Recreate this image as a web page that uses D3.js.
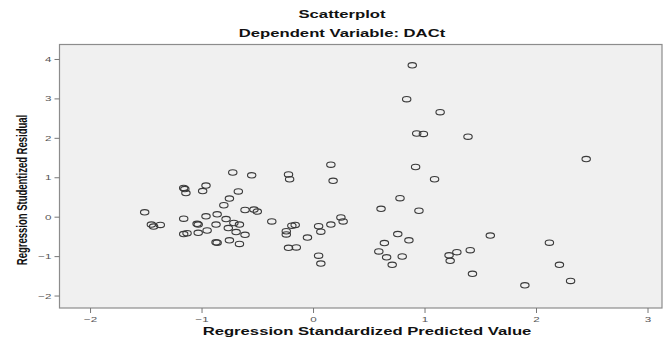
<!DOCTYPE html>
<html>
<head>
<meta charset="utf-8">
<script src="https://cdn.jsdelivr.net/npm/d3@7"></script>
<style>
  html, body { margin: 0; padding: 0; background: #fff; }
  svg { display: block; font-family: "Liberation Sans", Arial, sans-serif; }
</style>
</head>
<body>
<svg id="chart" width="665" height="345"></svg>
<script>
const title = 'Scatterplot';
const subtitle = 'Dependent Variable: DACt';
const xLabel = 'Regression Standardized Predicted Value';
const yLabel = 'Regression Studentized Residual';

const xTicks = [-2, -1, 0, 1, 2, 3];
const yTicks = [-2, -1, 0, 1, 2, 3, 4];

// standardized predicted value
const predicted = [
  -1.51, -1.45, -1.43, -1.37, -1.16, -1.15, -1.14, -0.96, -0.99, -1.16,
  -1.04, -1.03, -0.96, -0.86, -0.87, -1.16, -1.13, -1.03, -0.95, -0.87,
  -0.86, -0.72, -0.55, -0.67, -0.75, -0.80, -0.61, -0.53, -0.50, -0.37,
  -0.78, -0.71, -0.66, -0.76, -0.69, -0.61, -0.75, -0.66, -0.22, -0.21,
  -0.24, -0.24, -0.19, -0.16, -0.22, -0.15, 0.16, 0.18, 0.25, 0.27,
  0.16, 0.05, 0.07, -0.05, 0.05, 0.07, 0.78, 0.61, 0.95, 0.76,
  0.86, 0.64, 0.59, 0.66, 0.80, 0.71, 1.22, 1.29, 1.23, 1.41,
  1.43, 0.89, 0.84, 1.14, 0.93, 0.99, 1.39, 0.92, 1.09, 2.45,
  1.59, 2.12, 2.21, 1.90, 2.31
];

// studentized residual
const residual = [
  0.11, -0.20, -0.25, -0.21, 0.73, 0.70, 0.60, 0.79, 0.65, -0.05,
  -0.18, -0.20, 0.01, 0.06, -0.20, -0.44, -0.42, -0.41, -0.35, -0.65,
  -0.66, 1.12, 1.05, 0.64, 0.46, 0.29, 0.17, 0.18, 0.13, -0.12,
  -0.06, -0.16, -0.20, -0.29, -0.39, -0.46, -0.60, -0.69, 1.07, 0.95,
  -0.37, -0.45, -0.23, -0.21, -0.79, -0.78, 1.32, 0.91, -0.02, -0.12,
  -0.20, -0.24, -0.38, -0.53, -0.99, -1.19, 0.47, 0.20, 0.15, -0.44,
  -0.60, -0.67, -0.88, -1.03, -1.01, -1.22, -0.98, -0.90, -1.12, -0.85,
  -1.45, 3.84, 2.98, 2.65, 2.11, 2.10, 2.03, 1.26, 0.95, 1.46,
  -0.48, -0.66, -1.22, -1.74, -1.63
];

const points = predicted.map((x, i) => ({ x: x, y: residual[i] }));

const plot = { left: 59.5, right: 662, top: 44.5, bottom: 308 };
const stretch = 1.45; // the picture is wider than tall, text follows it

const x = d3.scaleLinear().domain([-2.274, 3.13]).range([plot.left, plot.right]);
const y = d3.scaleLinear().domain([-2.316, 4.367]).range([plot.bottom, plot.top]);

const svg = d3.select('#chart');

// plot area
svg.append('rect')
  .attr('x', plot.left)
  .attr('y', plot.top)
  .attr('width', plot.right - plot.left)
  .attr('height', plot.bottom - plot.top)
  .attr('fill', '#f0f0f0')
  .attr('stroke', '#8c8c8c')
  .attr('stroke-width', 1.2);

// axes
const xAxis = svg.append('g')
  .attr('transform', `translate(0,${plot.bottom})`)
  .call(d3.axisBottom(x).tickValues(xTicks).tickSize(5).tickPadding(3).tickFormat(d3.format('d')));

const yAxis = svg.append('g')
  .attr('transform', `translate(${plot.left},0)`)
  .call(d3.axisLeft(y).tickValues(yTicks).tickSize(5).tickPadding(3).tickFormat(d3.format('d')));

[xAxis, yAxis].forEach(ax => {
  ax.select('.domain').remove();
  ax.selectAll('.tick line').attr('stroke', '#777');
  ax.selectAll('.tick text')
    .attr('fill', '#555')
    .style('font-size', '8px')
    .style('font-family', '"Liberation Sans", Arial, sans-serif');
});

// stretch tick labels sideways around their own anchor
xAxis.selectAll('.tick text')
  .attr('transform', `scale(${stretch},1)`);
yAxis.selectAll('.tick text')
  .attr('transform', function () {
    const tx = +d3.select(this).attr('x');
    return `translate(${tx * (1 - stretch)},0) scale(${stretch},1)`;
  });

// markers
svg.append('g')
  .selectAll('ellipse')
  .data(points)
  .enter().append('ellipse')
  .attr('cx', d => x(d.x))
  .attr('cy', d => y(d.y))
  .attr('rx', 4.2)
  .attr('ry', 2.7)
  .attr('fill', 'none')
  .attr('stroke', '#3a3a3a')
  .attr('stroke-width', 1.1);

// titles and axis labels
function label(text, cx, cy, size, rotate) {
  svg.append('text')
    .attr('transform', `translate(${cx},${cy}) scale(${stretch},1)` + (rotate ? ' rotate(-90)' : ''))
    .attr('text-anchor', 'middle')
    .attr('dominant-baseline', 'central')
    .style('font-size', size + 'px')
    .style('font-weight', 'bold')
    .attr('fill', '#111')
    .text(text);
}

label(title, 342, 14, 11.5, false);
label(subtitle, 342, 33, 11.5, false);
label(xLabel, 367, 331, 11.5, false);
label(yLabel, 22, 190, 9.5, true);
</script>
</body>
</html>
